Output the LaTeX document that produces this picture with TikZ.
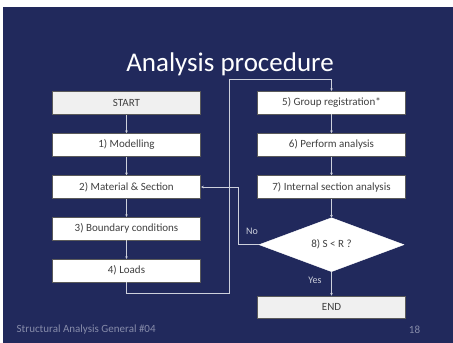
\documentclass[tikz,border=0pt]{standalone}
\usepackage{fontspec}
\setmainfont{Carlito}
\usetikzlibrary{shapes.geometric,arrows.meta}
\definecolor{slidebg}{RGB}{33,41,92}
\definecolor{boxtext}{RGB}{64,64,64}
\definecolor{boxedge}{RGB}{90,90,90}
\definecolor{lightfill}{RGB}{240,240,240}
\definecolor{connclr}{RGB}{205,208,220}
\definecolor{footclr}{RGB}{135,140,170}
\tikzset{
  stepbox/.style={draw=boxedge, line width=0.8pt, fill=white, text=boxtext,
    minimum width=148.5pt, minimum height=22.7pt, inner sep=0pt,
    font=\fontsize{11}{13}\selectfont},
  termbox/.style={stepbox, fill=lightfill},
  decbox/.style={diamond, draw=white, fill=white, text=boxtext, inner sep=0pt,
    minimum width=145pt, minimum height=54pt,
    font=\fontsize{11}{13}\selectfont},
  conn/.style={draw=connclr, line width=0.6pt,
    -{Stealth[length=2.6pt,width=2.6pt]}},
  branchlbl/.style={text=connclr, font=\fontsize{10}{12}\selectfont, inner sep=0pt},
  footer/.style={text=footclr, font=\fontsize{11}{13}\selectfont, inner sep=0pt}
}
\begin{document}
\begin{tikzpicture}[x=1pt,y=-1pt]
  % page and slide background
  \fill[white] (0,0) rectangle (453,343);
  \fill[slidebg] (3,7) rectangle (453,343);
  \useasboundingbox (0,0) rectangle (453,343);

  % title
  \node[text=white, font=\fontsize{27}{31}\selectfont, inner sep=0pt]
    (title) at (230,64) {Analysis procedure};

  % left column
  \node[termbox] (start) at (126.5,103)   {START};
  \node[stepbox] (model) at (126.5,144.8) {1) Modelling};
  \node[stepbox] (mat)   at (126.5,187)   {2) Material \& Section};
  \node[stepbox] (bnd)   at (126.5,228.7) {3) Boundary conditions};
  \node[stepbox] (loads) at (126.5,270.7) {4) Loads};

  % right column
  \node[stepbox] (grp)   at (331.5,102.7) {5) Group registration*};
  \node[stepbox] (run)   at (331.5,144.8) {6) Perform analysis};
  \node[stepbox] (sect)  at (331.5,187)   {7) Internal section analysis};
  \node[decbox]  (chk)   at (331.5,244.7) {8) S < R ?};
  \node[termbox] (fin)   at (331.5,307.3) {END};

  % routing points
  \coordinate (lowturn) at (229.3,293.3);
  \coordinate (topturn) at (229.3,79);
  \coordinate (noturn)  at (238.3,244.7);

  % connectors
  \draw[conn] (start) -- (model);
  \draw[conn] (model) -- (mat);
  \draw[conn] (mat) -- (bnd);
  \draw[conn] (bnd) -- (loads);
  \draw[conn] (loads.south) |- (lowturn) -- (topturn) -| (grp.north);
  \draw[conn] (grp) -- (run);
  \draw[conn] (run) -- (sect);
  \draw[conn] (sect) -- (chk.north);
  \draw[conn] (chk.south) -- (fin);
  \draw[conn] (chk.west) -- (noturn) |- (mat.east);

  % branch labels
  \node[branchlbl] (nolbl)  at (252,231.5) {No};
  \node[branchlbl] (yeslbl) at (315,280.5) {Yes};

  % footer
  \node[footer, anchor=west] (foot) at (16.5,330) {Structural Analysis General \#04};
  \node[footer] (pnum) at (414.5,330) {18};
\end{tikzpicture}
\end{document}
